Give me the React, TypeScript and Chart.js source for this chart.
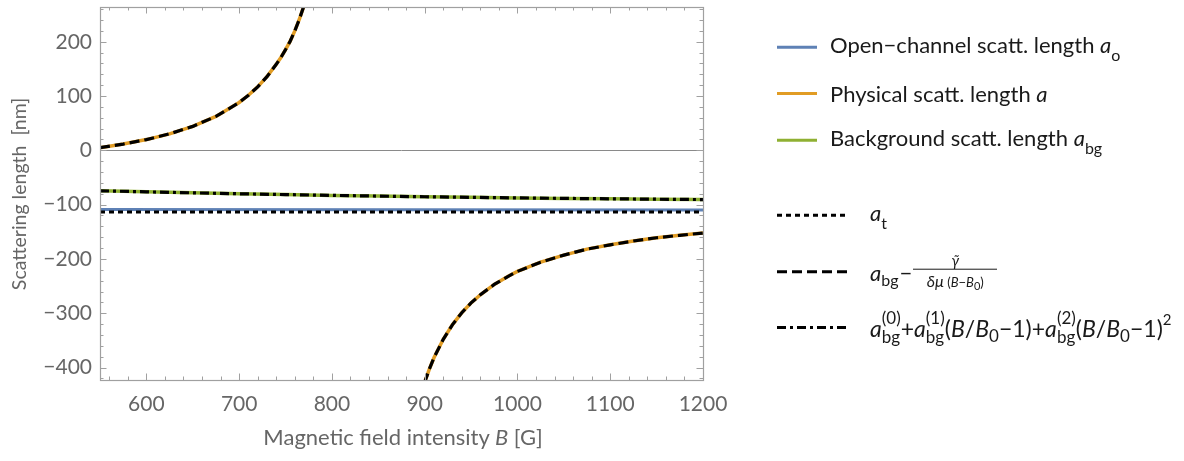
import React, { useEffect, useRef } from "react";
import { Chart, registerables } from "chart.js";

Chart.register(...registerables);

// Magnetic field B [G] and scattering lengths [nm]
const fieldUpper = [550, 575, 600, 625, 650, 675, 700, 710, 720, 730, 740, 745, 750, 755, 760, 765, 770, 775];
const physUpper = [4.8, 11.5, 19.8, 30.4, 44.1, 62.5, 88.1, 101.4, 117.0, 135.7, 158.5, 171.0, 185.5, 201.0, 220.0, 242.0, 267.0, 297.0];
const fieldLower = [895, 900, 905, 910, 920, 930, 940, 950, 960, 975, 990, 1000, 1025, 1050, 1075, 1100, 1125, 1150, 1175, 1200];
const physLower = [-455, -427, -403, -382, -348, -321, -299, -281, -266, -247, -232, -223, -206, -193, -182, -174, -167, -161, -156.5, -152.3];
const fieldBg = [550, 600, 650, 700, 750, 800, 850, 900, 950, 1000, 1050, 1100, 1150, 1200];
const bgLength = [-74.5, -76.5, -78.3, -80, -81.5, -83, -84.3, -85.5, -86.6, -87.6, -88.5, -89.3, -90, -90.7];
const fieldEnds = [550, 1200];
const openChannel = [-109, -110];
const tripletLength = [-113.5, -113.5];

const xRange = [550, 1200];
const yRange = [-423, 264];

const BLUE = "#5E81B5";
const ORANGE = "#E19C24";
const GREEN = "#8FB032";
const FRAME = "#a0a0a0";
const LABEL = "#666666";
const FONT = "Lato, 'Open Sans', sans-serif";

const pts = (xs: number[], ys: number[]) => xs.map((x, i) => ({ x, y: ys[i] }));
const physical = () => [
  ...pts(fieldUpper, physUpper),
  { x: 835, y: null as any },
  ...pts(fieldLower, physLower),
];

const framePlugin = {
  id: "mmaFrame",
  beforeDatasetsDraw(chart: any) {
    const { ctx, chartArea: a, scales } = chart;
    const y0 = Math.round(scales.y.getPixelForValue(0)) + 0.5;
    ctx.save();
    ctx.strokeStyle = "#8a8a8a";
    ctx.lineWidth = 1;
    ctx.beginPath();
    ctx.moveTo(a.left, y0);
    ctx.lineTo(a.right, y0);
    ctx.stroke();
    ctx.restore();
  },
  afterDatasetsDraw(chart: any) {
    const { ctx, chartArea: a, scales } = chart;
    const xs = scales.x;
    const ys = scales.y;
    ctx.save();
    ctx.strokeStyle = FRAME;
    ctx.lineWidth = 1.2;
    ctx.strokeRect(a.left + 0.5, a.top + 0.5, a.right - a.left, a.bottom - a.top);
    ctx.lineWidth = 1;
    ctx.beginPath();
    for (let v = 560; v < 1200; v += 20) {
      const px = Math.round(xs.getPixelForValue(v)) + 0.5;
      const len = v % 100 === 0 ? 6.5 : 3.5;
      ctx.moveTo(px, a.bottom);
      ctx.lineTo(px, a.bottom - len);
      ctx.moveTo(px, a.top);
      ctx.lineTo(px, a.top + len);
    }
    for (let v = -420; v <= 260; v += 20) {
      const py = Math.round(ys.getPixelForValue(v)) + 0.5;
      const len = v % 100 === 0 ? 6.5 : 3.5;
      ctx.moveTo(a.left, py);
      ctx.lineTo(a.left + len, py);
      ctx.moveTo(a.right, py);
      ctx.lineTo(a.right - len, py);
    }
    ctx.stroke();
    ctx.restore();
  },
};

function LegendLine({ color, dash, width = 40 }: { color: string; dash?: string; width?: number }) {
  return (
    <svg width={width} height={8} style={{ display: "block" }}>
      <line x1={0} y1={4} x2={width} y2={4} stroke={color} strokeWidth={3} strokeDasharray={dash} />
    </svg>
  );
}

const it: React.CSSProperties = { fontStyle: "italic" };

function SubSup({ sub, sup, size = 16 }: { sub: string; sup?: string; size?: number }) {
  return (
    <span style={{ display: "inline-flex", flexDirection: "column", fontSize: size, lineHeight: `${size - 1}px`, verticalAlign: "middle", marginTop: sup ? 0 : size - 1 }}>
      {sup ? <span>{sup}</span> : null}
      <span style={{ marginTop: sup ? 3 : 0 }}>{sub}</span>
    </span>
  );
}

export default function App() {
  const ref = useRef<HTMLCanvasElement>(null);

  useEffect(() => {
    const canvas = ref.current!;
    const chart = new Chart(canvas, {
      type: "line",
      data: {
        datasets: [
          { data: pts(fieldEnds, tripletLength), borderColor: "#000", borderWidth: 3, borderDash: [5, 4], pointRadius: 0, clip: 0 } as any,
          { data: physical(), borderColor: "#000", borderWidth: 3.2, borderDash: [10, 5], pointRadius: 0, spanGaps: false, clip: 0 } as any,
          { data: pts(fieldBg, bgLength), borderColor: "#000", borderWidth: 3.2, borderDash: [9, 4, 3, 4], pointRadius: 0, clip: 0 } as any,
          { data: pts(fieldEnds, openChannel), borderColor: BLUE, borderWidth: 3, pointRadius: 0, clip: 0 } as any,
          { data: physical(), borderColor: ORANGE, borderWidth: 3.5, pointRadius: 0, spanGaps: false, clip: 0 } as any,
          { data: pts(fieldBg, bgLength), borderColor: GREEN, borderWidth: 3.5, pointRadius: 0, clip: 0 } as any,
        ],
      },
      options: {
        animation: false,
        responsive: false,
        devicePixelRatio: 1,
        layout: { padding: { left: 0, top: 7, right: 481, bottom: 0 } },
        plugins: { legend: { display: false }, tooltip: { enabled: false } },
        elements: { line: { tension: 0 } },
        scales: {
          x: {
            type: "linear",
            min: xRange[0],
            max: xRange[1],
            grid: { display: false, drawTicks: false },
            border: { display: false },
            ticks: {
              stepSize: 100,
              includeBounds: false,
              color: LABEL,
              padding: 12,
              maxRotation: 0,
              font: { family: FONT, size: 21 },
              callback: (v: any) => String(v),
            },
            afterFit: (s: any) => { s.height = 81; s.paddingLeft = 0; s.paddingRight = 0; },
          },
          y: {
            type: "linear",
            min: yRange[0],
            max: yRange[1],
            grid: { display: false, drawTicks: false },
            border: { display: false },
            ticks: {
              stepSize: 100,
              includeBounds: false,
              color: LABEL,
              padding: 8,
              font: { family: FONT, size: 21 },
              callback: (v: any) => (v < 0 ? "\u2212" + Math.abs(v) : String(v)),
            },
            afterFit: (s: any) => { s.width = 100; s.paddingTop = 0; s.paddingBottom = 0; },
          },
        },
      },
      plugins: [framePlugin],
    } as any);
    return () => chart.destroy();
  }, []);

  const row = (top: number): React.CSSProperties => ({
    position: "absolute",
    top,
    left: 777,
    display: "flex",
    alignItems: "center",
    transform: "translateY(-50%)",
    whiteSpace: "nowrap",
  });

  const legendText: React.CSSProperties = { marginLeft: 13, fontSize: 22 };

  return (
    <div style={{ position: "fixed", left: 0, top: 0, width: 1184, height: 461, background: "#fff", fontFamily: FONT, fontSize: 20, color: "#1a1a1a" }}>
      <canvas ref={ref} width={1184} height={461} style={{ position: "absolute", left: 0, top: 0, width: 1184, height: 461 }} />

      <div style={{ position: "absolute", left: 19 - 150, top: 194 - 15, width: 300, height: 30, lineHeight: "30px", textAlign: "center", transform: "rotate(-90deg)", whiteSpace: "pre", color: LABEL, fontSize: 19.5 }}>
        {"Scattering length  [nm]"}
      </div>
      <div style={{ position: "absolute", left: 403 - 200, top: 437 - 15, width: 400, height: 30, lineHeight: "30px", textAlign: "center", whiteSpace: "pre", color: LABEL, fontSize: 22 }}>
        {"Magnetic field intensity "}<span style={it}>B</span>{" [G]"}
      </div>

      <div style={row(47)}>
        <LegendLine color={BLUE} />
        <span style={legendText}>Open−channel scatt. length <span style={it}>a</span><SubSup sub="o" /></span>
      </div>
      <div style={row(93)}>
        <LegendLine color={ORANGE} />
        <span style={legendText}>Physical scatt. length <span style={it}>a</span></span>
      </div>
      <div style={row(140)}>
        <LegendLine color={GREEN} />
        <span style={legendText}>Background scatt. length <span style={it}>a</span><SubSup sub="bg" /></span>
      </div>
      <div style={row(215)}>
        <LegendLine color="#000" dash="5 4" width={71} />
        <span style={{ marginLeft: 22, fontSize: 22 }}><span style={it}>a</span><SubSup sub="t" size={16} /></span>
      </div>
      <div style={row(272)}>
        <LegendLine color="#000" dash="10 5" width={71} />
        <span style={{ marginLeft: 22, display: "inline-flex", alignItems: "center", fontSize: 22 }}>
          <span style={it}>a</span><SubSup sub="bg" size={16} />
          <span style={{ margin: "0 1px" }}>−</span>
          <span style={{ display: "inline-flex", flexDirection: "column", alignItems: "center", marginTop: 4 }}>
            <span style={{ ...it, fontSize: 15, lineHeight: "18px" }}>γ̃</span>
            <span style={{ borderTop: "1.5px solid #1a1a1a", width: 84, height: 0 }} />
            <span style={{ fontSize: 16, lineHeight: "22px" }}>
              <span style={it}>δμ</span>
              <span style={{ fontSize: 13 }}> (<span style={it}>B</span>−<span style={it}>B</span>
                <sub style={{ fontSize: 11 }}>0</sub>)</span>
            </span>
          </span>
        </span>
      </div>
      <div style={row(327)}>
        <LegendLine color="#000" dash="9 4 3 4" width={71} />
        <span style={{ marginLeft: 22, display: "inline-flex", alignItems: "center", fontSize: 23 }}>
          <span style={it}>a</span><SubSup sub="bg" sup="(0)" size={17} />+
          <span style={it}>a</span><SubSup sub="bg" sup="(1)" size={17} />(<span style={it}>B</span>/<span style={it}>B</span><SubSup sub="0" size={17} />−1)+
          <span style={it}>a</span><SubSup sub="bg" sup="(2)" size={17} />(<span style={it}>B</span>/<span style={it}>B</span><SubSup sub="0" size={17} />−1)
          <span style={{ fontSize: 15, alignSelf: "flex-start", marginTop: 0 }}>2</span>
        </span>
      </div>
    </div>
  );
}
